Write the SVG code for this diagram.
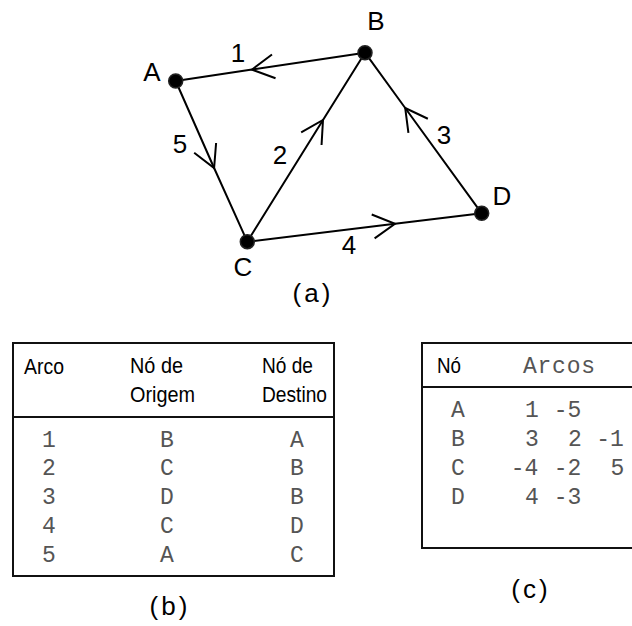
<svg xmlns="http://www.w3.org/2000/svg" width="632" height="626" viewBox="0 0 632 626">
<style>
.edge{fill:none;stroke:#000;stroke-width:2;marker-mid:url(#chev)}
.node{fill:#000;stroke:#222;stroke-width:1.5}
.lbl{font-family:"Liberation Sans",Arial,sans-serif;font-size:26px;fill:#000;text-anchor:middle}
.cap{font-family:"Liberation Sans",Arial,sans-serif;font-size:26px;fill:#000;text-anchor:middle;letter-spacing:3px}
.hd{font-family:"Liberation Sans",Arial,sans-serif;font-size:22px;fill:#000}
.mono{font-family:"Liberation Mono","Courier New",monospace;font-size:23px;fill:#555;text-anchor:middle}
.box{fill:none;stroke:#111;stroke-width:2}
</style>
<defs>
<marker id="chev" markerUnits="userSpaceOnUse" markerWidth="30" markerHeight="30" viewBox="-25 -15 30 30" refX="0" refY="0" orient="auto" overflow="visible">
<path d="M-22,-12 L0,0 L-22,12" fill="none" stroke="#000" stroke-width="2"/>
</marker>
</defs>
<rect width="632" height="626" fill="#fff"/>
<g id="connectors">
<path id="e1" class="edge" d="M365,52.7 L252,69.6 L175.7,81"/>
<path id="e5" class="edge" d="M175.7,81 L214.1,168 L247.3,241.7"/>
<path id="e2" class="edge" d="M247.3,241.7 L323,120 L365,52.7"/>
<path id="e3" class="edge" d="M481.7,213.3 L405.2,108 L365,52.7"/>
<path id="e4" class="edge" d="M247.3,241.7 L395,223.8 L481.7,213.3"/>
</g>
<g id="edge-labels">
<text class="lbl" x="238" y="62">1</text>
<text class="lbl" x="180" y="153">5</text>
<text class="lbl" x="280" y="164">2</text>
<text class="lbl" x="444" y="144">3</text>
<text class="lbl" x="349" y="254">4</text>
</g>
<g id="node-A"><circle class="node" cx="175.7" cy="81" r="7"/><text class="lbl" x="152" y="81">A</text></g>
<g id="node-B"><circle class="node" cx="365" cy="52.7" r="7"/><text class="lbl" x="376" y="30">B</text></g>
<g id="node-C"><circle class="node" cx="247.3" cy="241.7" r="7"/><text class="lbl" x="243" y="276">C</text></g>
<g id="node-D"><circle class="node" cx="481.7" cy="213.3" r="7"/><text class="lbl" x="502" y="205">D</text></g>
<text class="cap" x="313" y="302">(a)</text>
<g id="table-b">
<rect class="box" x="13" y="343" width="321" height="233"/>
<line class="box" x1="13" y1="417" x2="334" y2="417"/>
<text class="hd" x="24" y="374" textLength="40" lengthAdjust="spacingAndGlyphs">Arco</text>
<text class="hd" x="130" y="373" textLength="53" lengthAdjust="spacingAndGlyphs">Nó de</text>
<text class="hd" x="130" y="402" textLength="65" lengthAdjust="spacingAndGlyphs">Origem</text>
<text class="hd" x="262" y="373" textLength="51" lengthAdjust="spacingAndGlyphs">Nó de</text>
<text class="hd" x="262" y="402" textLength="65" lengthAdjust="spacingAndGlyphs">Destino</text>
<text class="mono" x="49" y="447">1</text><text class="mono" x="167" y="447">B</text><text class="mono" x="297" y="447">A</text>
<text class="mono" x="49" y="475">2</text><text class="mono" x="167" y="475">C</text><text class="mono" x="297" y="475">B</text>
<text class="mono" x="49" y="504">3</text><text class="mono" x="167" y="504">D</text><text class="mono" x="297" y="504">B</text>
<text class="mono" x="49" y="533">4</text><text class="mono" x="167" y="533">C</text><text class="mono" x="297" y="533">D</text>
<text class="mono" x="49" y="562">5</text><text class="mono" x="167" y="562">A</text><text class="mono" x="297" y="562">C</text>
</g>
<text class="cap" x="170" y="615">(b)</text>
<g id="table-c">
<rect class="box" x="422" y="343" width="230" height="205"/>
<line class="box" x1="422" y1="387" x2="640" y2="387"/>
<text class="hd" x="437" y="373" textLength="24" lengthAdjust="spacingAndGlyphs">Nó</text>
<text class="mono" x="559" y="373" textLength="72">Arcos</text>
<text class="mono" x="458" y="417">A</text><text class="mono" x="532" y="417">1</text><text class="mono" x="567.5" y="417">-5</text>
<text class="mono" x="458" y="446">B</text><text class="mono" x="532" y="446">3</text><text class="mono" x="575" y="446">2</text><text class="mono" x="610" y="446">-1</text>
<text class="mono" x="458" y="475">C</text><text class="mono" x="524.5" y="475">-4</text><text class="mono" x="567.5" y="475">-2</text><text class="mono" x="617.5" y="475">5</text>
<text class="mono" x="458" y="504">D</text><text class="mono" x="532" y="504">4</text><text class="mono" x="567.5" y="504">-3</text>
</g>
<text class="cap" x="531" y="598">(c)</text>
</svg>
